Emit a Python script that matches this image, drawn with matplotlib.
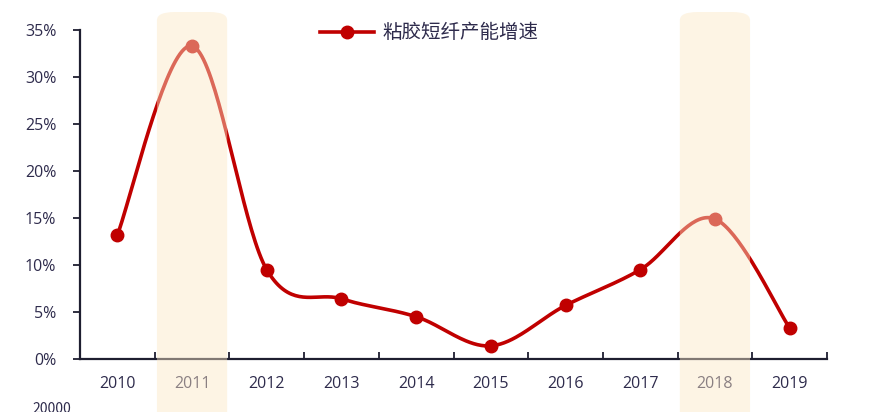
import numpy as np
import matplotlib
matplotlib.use("Agg")
import matplotlib.pyplot as plt
from matplotlib.patches import FancyBboxPatch
from matplotlib.ticker import FuncFormatter, MultipleLocator

plt.rcParams['font.family'] = ['Noto Sans CJK SC', 'DejaVu Sans']

years = ["2010", "2011", "2012", "2013", "2014", "2015", "2016", "2017", "2018", "2019"]
growth = [13.2, 33.3, 9.5, 6.4, 4.5, 1.4, 5.7, 9.5, 14.9, 3.3]
highlight_years = ["2011", "2018"]
series_name = "粘胶短纤产能增速"

LINE = "#C00000"
TEXT = "#2E2B4C"

W, H = 876, 412
fig = plt.figure(figsize=(W / 100, H / 100), dpi=100)
fig.patch.set_facecolor("white")
ax = fig.add_axes([80 / W, 1 - 359 / H, 747 / W, 329 / H])

x = np.arange(len(years), dtype=float)
y = np.array(growth) / 100.0

# smooth curve (Catmull-Rom like Excel smoothed line)
def smooth(xs, ys, n=40):
    px, py = [], []
    N = len(xs)
    for i in range(N - 1):
        x0, y0 = (xs[i - 1], ys[i - 1]) if i > 0 else (xs[i], ys[i])
        x1, y1 = xs[i], ys[i]
        x2, y2 = xs[i + 1], ys[i + 1]
        x3, y3 = (xs[i + 2], ys[i + 2]) if i + 2 < N else (xs[i + 1], ys[i + 1])
        c1x, c1y = x1 + (x2 - x0) / 6, y1 + (y2 - y0) / 6
        c2x, c2y = x2 - (x3 - x1) / 6, y2 - (y3 - y1) / 6
        t = np.linspace(0, 1, n)
        bx = (1 - t) ** 3 * x1 + 3 * (1 - t) ** 2 * t * c1x + 3 * (1 - t) * t ** 2 * c2x + t ** 3 * x2
        by = (1 - t) ** 3 * y1 + 3 * (1 - t) ** 2 * t * c1y + 3 * (1 - t) * t ** 2 * c2y + t ** 3 * y2
        px.extend(bx[:-1] if i < N - 2 else bx)
        py.extend(by[:-1] if i < N - 2 else by)
    return np.array(px), np.array(py)

sx, sy = smooth(x, y)
ax.plot(sx, sy, color=LINE, lw=2.6, zorder=3, solid_capstyle='round')
ax.plot(x, y, 'o', color=LINE, ms=9, zorder=4, label=series_name)

ax.set_xlim(-0.5, len(years) - 0.5)
ax.set_ylim(0, 0.35)
ax.yaxis.set_major_locator(MultipleLocator(0.05))
ax.yaxis.set_major_formatter(FuncFormatter(lambda v, p: f"{v*100:.0f}%"))
ax.set_xticks(x)
ax.set_xticklabels(years)
ax.set_xticks(np.arange(-0.5, len(years) + 0.5, 1.0), minor=True)
ax.tick_params(axis='x', which='major', length=0, pad=12, labelsize=11.5, colors=TEXT)
ax.tick_params(axis='x', which='minor', direction='in', length=5, width=1.3, color="#1e1e30")
ax.tick_params(axis='y', direction='out', length=5, width=1.3, color="#1e1e30",
               labelsize=11.5, labelcolor=TEXT, pad=12)
for lbl in ax.get_xticklabels() + ax.get_yticklabels():
    lbl.set_fontfamily('Open Sans')
for s in ['top', 'right']:
    ax.spines[s].set_visible(False)
for s in ['left', 'bottom']:
    ax.spines[s].set_linewidth(1.6)
    ax.spines[s].set_color("#1e1e30")

leg = ax.legend(loc='center left', bbox_to_anchor=((320 - 80) / 747, (359 - 33) / 329),
                frameon=False, borderaxespad=0, borderpad=0,
                fontsize=14, handlelength=2.8, handletextpad=0.4,
                labelcolor=TEXT)
leg.get_lines()[0].set_linestyle('-')
leg.get_lines()[0].set_linewidth(2.6)

# highlight bands overlay (drawn on top, semi-transparent)
for hy in highlight_years:
    i = years.index(hy)
    xd = ax.transData.transform((i - 0.47, 0))[0]
    xd2 = ax.transData.transform((i + 0.47, 0))[0]
    fx0 = xd / W
    fw = (xd2 - xd) / W
    band = FancyBboxPatch((fx0, -0.1), fw, 1 - 12 / H + 0.1,
                          boxstyle="round,pad=0,rounding_size=0.02",
                          transform=fig.transFigure, facecolor="#FCE8C5",
                          edgecolor='none', alpha=0.45, zorder=10)
    fig.patches.append(band)

fig.text(32 / W, 1 - 409 / H, "20000", fontsize=10, color=TEXT, va='center')

fig.savefig("out.png", dpi=100)
